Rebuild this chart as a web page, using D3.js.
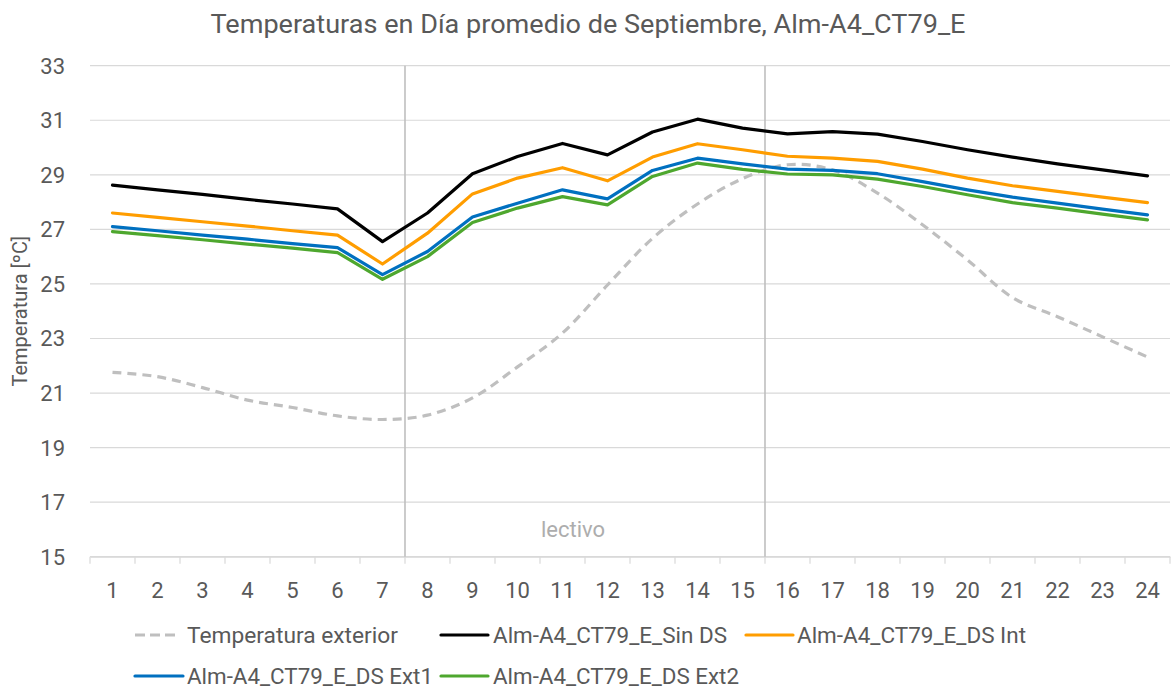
<!DOCTYPE html>
<html>
<head>
<meta charset="utf-8">
<script src="https://cdn.jsdelivr.net/npm/d3@7/dist/d3.min.js"></script>
<style>
  html, body { margin: 0; padding: 0; background: #fff; }
  svg { display: block; }
  text { font-family: "Roboto", "Liberation Sans", sans-serif; fill: #595959; }
</style>
</head>
<body>
<svg id="chart" width="1171" height="691"></svg>
<script>
// Hours of the average September day
const hours = d3.range(1, 25);

// Temperatures [ºC] per hour for each case
const tExterior = [21.76, 21.6, 21.2, 20.74, 20.47, 20.16, 20.03, 20.19, 20.82, 21.96, 23.2, 24.96,
                   26.67, 27.93, 28.86, 29.37, 29.18, 28.33, 27.17, 25.88, 24.5, 23.8, 23.06, 22.32];
const sinDS     = [28.62, 28.45, 28.28, 28.1, 27.93, 27.75, 26.55, 27.6, 29.04, 29.67, 30.15, 29.73,
                   30.57, 31.04, 30.71, 30.5, 30.58, 30.49, 30.22, 29.92, 29.65, 29.4, 29.18, 28.96];
const dsInt     = [27.6, 27.44, 27.28, 27.12, 26.95, 26.79, 25.73, 26.86, 28.3, 28.88, 29.26, 28.78,
                   29.65, 30.14, 29.92, 29.68, 29.61, 29.49, 29.21, 28.88, 28.6, 28.39, 28.18, 27.98];
const dsExt1    = [27.1, 26.95, 26.79, 26.64, 26.48, 26.33, 25.34, 26.19, 27.45, 27.96, 28.45, 28.12,
                   29.16, 29.61, 29.4, 29.21, 29.16, 29.04, 28.75, 28.45, 28.18, 27.96, 27.74, 27.53];
const dsExt2    = [26.92, 26.77, 26.62, 26.46, 26.31, 26.15, 25.17, 26.0, 27.25, 27.78, 28.2, 27.9,
                   28.94, 29.43, 29.2, 29.03, 29.0, 28.84, 28.57, 28.27, 27.98, 27.78, 27.56, 27.35];

const seriesNames = ["Temperatura exterior", "Alm-A4_CT79_E_Sin DS", "Alm-A4_CT79_E_DS Int",
                     "Alm-A4_CT79_E_DS Ext1", "Alm-A4_CT79_E_DS Ext2"];
const yTicks = [15, 17, 19, 21, 23, 25, 27, 29, 31, 33];
// School-hours window: between hour 7|8 and 15|16
const lectivoStart = 8, lectivoEnd = 15;

const series = [
  { name: seriesNames[0], values: tExterior, color: "#BFBFBF", dash: "9,6", smooth: true },
  { name: seriesNames[1], values: sinDS,     color: "#000000", dash: null },
  { name: seriesNames[2], values: dsInt,     color: "#FF9D00", dash: null },
  { name: seriesNames[3], values: dsExt1,    color: "#0070C0", dash: null },
  { name: seriesNames[4], values: dsExt2,    color: "#4EA72E", dash: null }
];

const svg = d3.select("#chart");
const plot = { left: 90, right: 1170, top: 65.7, bottom: 556.7 };

const x = d3.scaleBand().domain(hours).range([plot.left, plot.right]).paddingInner(0).paddingOuter(0);
const xc = h => x(h) + x.bandwidth() / 2;
const y = d3.scaleLinear().domain([15, 33]).range([plot.bottom, plot.top]);

// Title
svg.append("text")
  .attr("x", 588).attr("y", 33)
  .attr("text-anchor", "middle")
  .style("font-size", "25px")
  .attr("textLength", 755).attr("lengthAdjust", "spacingAndGlyphs")
  .text("Temperaturas en Día promedio de Septiembre, Alm-A4_CT79_E");

// Horizontal gridlines
svg.append("g")
  .selectAll("line").data(yTicks).join("line")
  .attr("x1", plot.left).attr("x2", plot.right)
  .attr("y1", d => y(d)).attr("y2", d => y(d))
  .attr("stroke", "#D9D9D9").attr("stroke-width", 1.2);

// Y tick labels
svg.append("g")
  .selectAll("text").data(yTicks).join("text")
  .attr("x", 65).attr("y", d => y(d))
  .attr("dy", "0.36em")
  .attr("text-anchor", "end")
  .style("font-size", "22px")
  .text(d => d);

// Y axis title
svg.append("text")
  .attr("transform", `translate(27,${(plot.top + plot.bottom) / 2}) rotate(-90)`)
  .attr("text-anchor", "middle")
  .style("font-size", "20px")
  .text("Temperatura [ºC]");

// X axis line with category boundary ticks
const xAxis = d3.axisBottom(x).tickSize(0).tickFormat(d => d);
const gx = svg.append("g").attr("transform", `translate(0,${plot.bottom})`).call(xAxis);
gx.select(".domain").attr("stroke", "#D9D9D9").attr("stroke-width", 1.2);
gx.selectAll(".tick text").attr("dy", 0).attr("y", 41).style("font-size", "22px")
  .style("font-family", "Roboto, sans-serif").attr("fill", "#595959");
const bounds = hours.map(h => x(h)).concat([plot.right]);
svg.append("g")
  .selectAll("line").data(bounds).join("line")
  .attr("x1", d => d).attr("x2", d => d)
  .attr("y1", plot.bottom).attr("y2", plot.bottom + 7)
  .attr("stroke", "#D9D9D9").attr("stroke-width", 1.2);

// Vertical markers for the school hours
const markerX = [x(lectivoStart), x(lectivoEnd) + x.bandwidth()];
svg.append("g")
  .selectAll("line").data(markerX).join("line")
  .attr("x1", d => d).attr("x2", d => d)
  .attr("y1", plot.top).attr("y2", plot.bottom)
  .attr("stroke", "#BFBFBF").attr("stroke-width", 1.6);

svg.append("text")
  .attr("x", 573).attr("y", 537)
  .attr("text-anchor", "middle")
  .style("font-size", "22px")
  .style("fill", "#ADADAD")
  .text("lectivo");

// Series lines
const lineLinear = d3.line().x((d, i) => xc(hours[i])).y(d => y(d)).curve(d3.curveLinear);
const lineSmooth = d3.line().x((d, i) => xc(hours[i])).y(d => y(d)).curve(d3.curveCatmullRom.alpha(0.5));

svg.append("g")
  .selectAll("path").data(series).join("path")
  .attr("d", s => (s.smooth ? lineSmooth : lineLinear)(s.values))
  .attr("fill", "none")
  .attr("stroke", s => s.color)
  .attr("stroke-width", 3.2)
  .attr("stroke-linejoin", "round")
  .attr("stroke-linecap", s => s.dash ? "butt" : "round")
  .attr("stroke-dasharray", s => s.dash);

// Legend
const legendPos = [
  { x: 135, y: 635, w: 45, tx: 187, tw: 211 },
  { x: 441, y: 635, w: 47, tx: 493, tw: 234 },
  { x: 746, y: 635, w: 47, tx: 797, tw: 229 },
  { x: 135, y: 676, w: 48, tx: 187, tw: 246 },
  { x: 441, y: 676, w: 47, tx: 493, tw: 246 }
];
const lg = svg.append("g").selectAll("g").data(series).join("g");
lg.append("line")
  .attr("x1", (s, i) => legendPos[i].x).attr("x2", (s, i) => legendPos[i].x + legendPos[i].w)
  .attr("y1", (s, i) => legendPos[i].y).attr("y2", (s, i) => legendPos[i].y)
  .attr("stroke", s => s.color)
  .attr("stroke-width", 3.2)
  .attr("stroke-linecap", s => s.dash ? "butt" : "round")
  .attr("stroke-dasharray", s => s.dash ? "10,5" : null);
lg.append("text")
  .attr("x", (s, i) => legendPos[i].tx)
  .attr("y", (s, i) => legendPos[i].y).attr("dy", "0.36em")
  .style("font-size", "22px")
  .attr("textLength", (s, i) => legendPos[i].tw).attr("lengthAdjust", "spacingAndGlyphs")
  .text(s => s.name);
</script>
</body>
</html>
